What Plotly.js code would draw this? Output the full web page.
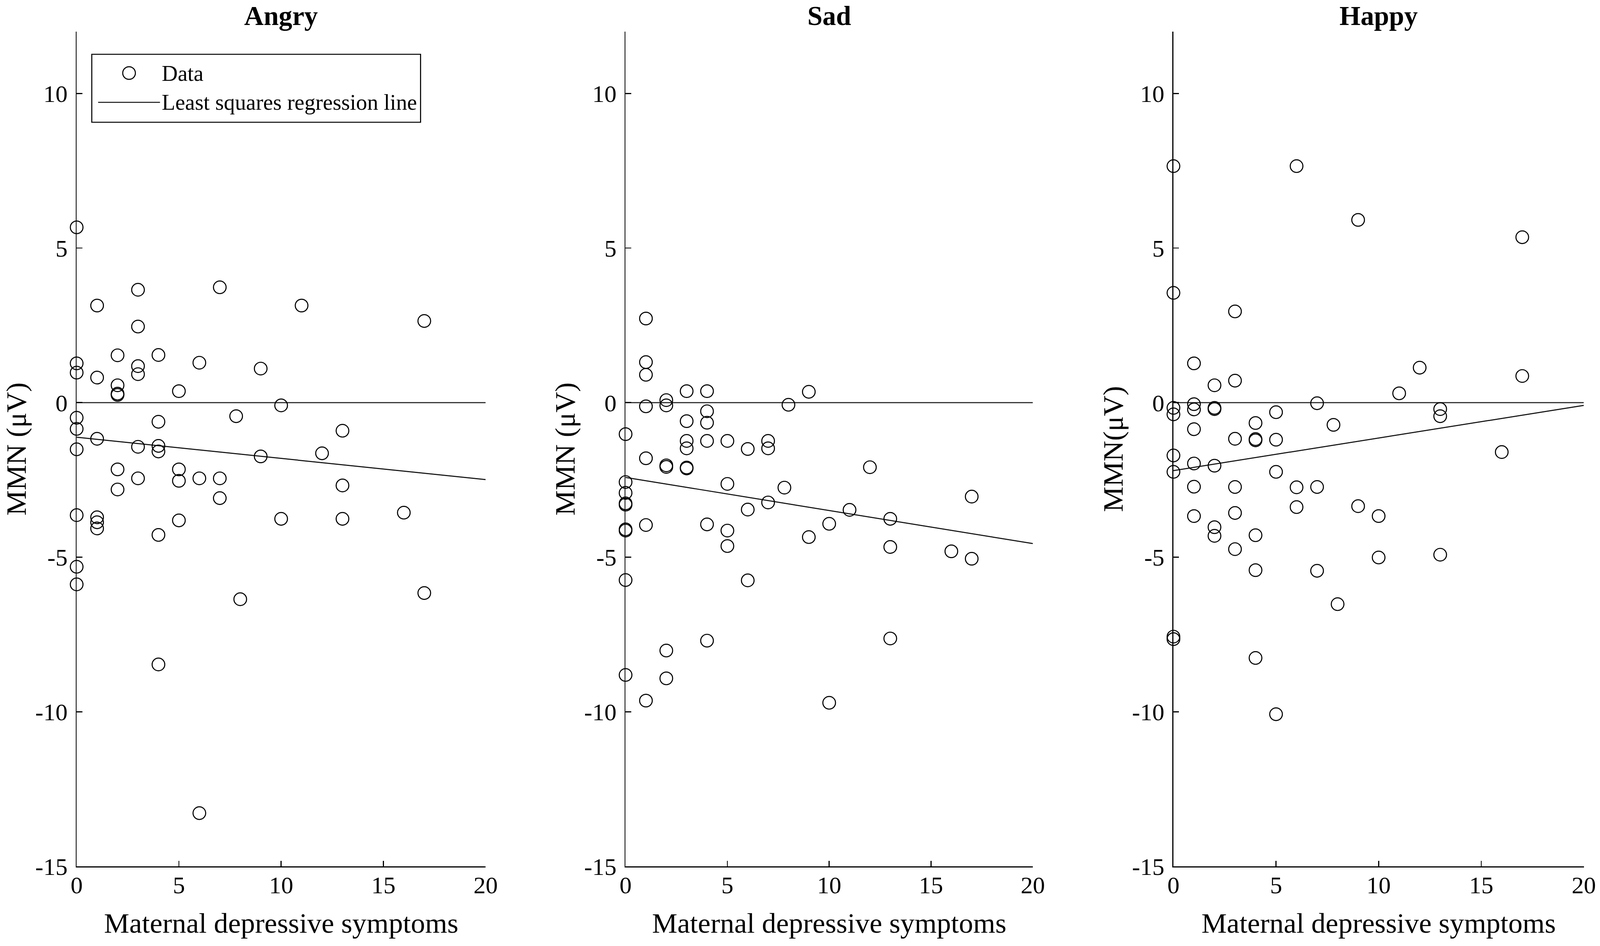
<!DOCTYPE html>
<html>
<head>
<meta charset="utf-8">
<script src="https://cdn.plot.ly/plotly-3.0.1.min.js"></script>
<style>
  html, body { margin: 0; padding: 0; background: #fff; overflow: hidden; }
  #chart { width: 100vw; height: 100vh; }
</style>
</head>
<body>
<div id="chart"></div>
<script>
// panel names and y labels
var panelTitles = ['Angry', 'Sad', 'Happy'];
var yLabels = ['MMN (\u03bcV)', 'MMN (\u03bcV)', 'MMN(\u03bcV)'];
var xLabel = 'Maternal depressive symptoms';

// tick values and their labels (plain hyphen, as in the figure)
var xTicks = [0, 5, 10, 15, 20];
var xTickText = ['0', '5', '10', '15', '20'];
var yTicks = [-15, -10, -5, 0, 5, 10];
var yTickText = ['-15', '-10', '-5', '0', '5', '10'];

// Angry
var angryX = [0, 3, 7, 1, 11, 17, 3, 2, 4, 0, 0, 6, 3, 3, 1, 9, 2, 2, 2, 5,
  10, 0, 7.8, 4, 0, 13, 1, 3, 4, 4, 0, 12, 9, 2, 5, 3, 5, 6, 7, 2,
  13, 7, 0, 1, 1, 1, 5, 10, 13, 16, 4, 0, 0, 8, 17, 4, 6];
var angryY = [5.67, 3.65, 3.73, 3.14, 3.14, 2.64, 2.46, 1.53, 1.54, 1.27, 0.97, 1.29, 1.18, 0.92, 0.81, 1.10, 0.56, 0.29, 0.25, 0.37,
  -0.09, -0.49, -0.44, -0.62, -0.85, -0.91, -1.17, -1.43, -1.40, -1.58, -1.51, -1.64, -1.74, -2.16, -2.16, -2.45, -2.53, -2.45, -2.45, -2.81,
  -2.68, -3.09, -3.64, -3.71, -3.87, -4.07, -3.81, -3.76, -3.76, -3.56, -4.28, -5.31, -5.88, -6.36, -6.16, -8.47, -13.28];

// Sad
var sadX = [1, 1, 1, 3, 4, 9, 1, 2, 2, 8, 4, 3, 4, 0, 3, 3, 4, 5, 6, 7,
  7, 1, 2, 2, 3, 3, 12, 0, 0, 0, 0, 5, 7.8, 17, 7, 6, 11, 13, 10, 1,
  4, 0, 0, 5, 9, 5, 13, 16, 17, 0, 6, 4, 13, 2, 0, 2, 1, 10];
var sadY = [2.72, 1.31, 0.90, 0.37, 0.37, 0.35, -0.12, 0.08, -0.09, -0.07, -0.28, -0.60, -0.65, -1.02, -1.24, -1.48, -1.24, -1.24, -1.50, -1.24,
  -1.48, -1.80, -2.03, -2.08, -2.10, -2.13, -2.09, -2.57, -2.92, -3.26, -3.30, -2.63, -2.75, -3.04, -3.23, -3.46, -3.47, -3.76, -3.92, -3.96,
  -3.94, -4.10, -4.14, -4.14, -4.35, -4.64, -4.67, -4.81, -5.05, -5.74, -5.75, -7.70, -7.63, -8.02, -8.81, -8.92, -9.64, -9.71];

// Happy
var happyX = [0, 6, 9, 17, 0, 3, 1, 12, 17, 3, 2, 11, 0, 0, 1, 1, 2, 2, 7, 5,
  13, 13, 4, 7.8, 1, 3, 4, 4, 5, 16, 0, 1, 2, 0, 5, 1, 3, 6, 7, 6,
  9, 3, 10, 1, 2, 2, 4, 3, 13, 10, 4, 7, 8, 0, 0, 4, 5];
var happyY = [7.65, 7.65, 5.91, 5.35, 3.55, 2.95, 1.27, 1.13, 0.86, 0.71, 0.56, 0.30, -0.17, -0.38, -0.05, -0.22, -0.17, -0.21, -0.02, -0.31,
  -0.21, -0.44, -0.66, -0.72, -0.86, -1.17, -1.18, -1.22, -1.20, -1.60, -1.71, -1.97, -2.04, -2.24, -2.24, -2.72, -2.73, -2.74, -2.73, -3.38,
  -3.35, -3.57, -3.67, -3.67, -4.03, -4.31, -4.29, -4.74, -4.92, -5.01, -5.42, -5.44, -6.52, -7.57, -7.65, -8.26, -10.08];

// least squares lines (end points) and the zero reference line
var fitX = [0, 20];
var angryFitY = [-1.12, -2.49];
var sadFitY = [-2.42, -4.56];
var happyFitY = [-2.20, -0.09];
var zeroY = [0, 0];

// size of the page actually available; the layout was measured on 4550 x 2422
var W = window.innerWidth || 4550;
var H = window.innerHeight || 2422;
var k = Math.min(W / 4550, H / 2422);
function px(v) { return v * k; }
function fx(v) { return v / 4550; }
function fy(v) { return 1 - v / 2422; }

var serif = 'Liberation Serif, Times New Roman, serif';
var xDomains = [[fx(218), fx(1381)], [fx(1779), fx(2937)], [fx(3337), fx(4504)]];
var yDomain = [fy(2218), fy(81)];

var allX = [angryX, sadX, happyX];
var allY = [angryY, sadY, happyY];
var allFit = [angryFitY, sadFitY, happyFitY];

var data = [];
var layout = {
  width: W,
  height: H,
  margin: {l: 0, r: 0, t: 0, b: 0},
  paper_bgcolor: '#fff',
  plot_bgcolor: '#fff',
  showlegend: false,
  annotations: [],
  shapes: []
};

for (var i = 0; i < 3; i++) {
  var sfx = i === 0 ? '' : String(i + 1);
  data.push({
    x: fitX, y: zeroY, xaxis: 'x' + sfx, yaxis: 'y' + sfx,
    type: 'scatter', mode: 'lines', hoverinfo: 'skip',
    line: {color: '#222', width: px(3)}
  });
  data.push({
    x: fitX, y: allFit[i], xaxis: 'x' + sfx, yaxis: 'y' + sfx,
    type: 'scatter', mode: 'lines', name: 'Least squares regression line',
    line: {color: '#111', width: px(3)}
  });
  data.push({
    x: allX[i], y: allY[i], xaxis: 'x' + sfx, yaxis: 'y' + sfx,
    type: 'scatter', mode: 'markers', name: 'Data', cliponaxis: false,
    marker: {symbol: 'circle-open', size: px(36), color: '#000', line: {width: px(3), color: '#000'}}
  });

  layout['xaxis' + sfx] = {
    domain: xDomains[i], anchor: 'y' + sfx, range: [0, 20],
    tickvals: xTicks, ticktext: xTickText, ticks: 'inside', ticklen: px(16), tickwidth: px(3), tickcolor: '#000',
    showline: true, linewidth: px(3), linecolor: '#000',
    showgrid: false, zeroline: false, automargin: false, fixedrange: true,
    tickfont: {family: serif, size: px(69), color: '#000'}, ticklabelstandoff: Math.round(px(-9)),
    title: {text: xLabel, font: {family: serif, size: px(81), color: '#000'}, standoff: px(42)}
  };
  layout['yaxis' + sfx] = {
    domain: yDomain, anchor: 'x' + sfx, range: [-15, 12],
    tickvals: yTicks, ticktext: yTickText, ticks: 'inside', ticklen: px(16), tickwidth: px(3), tickcolor: '#000',
    showline: true, linewidth: px(3), linecolor: '#000',
    showgrid: false, zeroline: false, automargin: false, fixedrange: true,
    tickfont: {family: serif, size: px(69), color: '#000'}, ticklabelstandoff: Math.round(px(9)),
    title: {text: yLabels[i], font: {family: serif, size: px(81), color: '#000'}, standoff: 0}
  };

  layout.annotations.push({
    text: '<b>' + panelTitles[i] + '</b>', xref: 'paper', yref: 'paper',
    x: (xDomains[i][0] + xDomains[i][1]) / 2, y: 1,
    xanchor: 'center', yanchor: 'top', showarrow: false,
    font: {family: serif, size: px(77), color: '#000'}
  });
}

// legend box inside the Angry panel
layout.shapes.push({
  type: 'rect', xref: 'paper', yref: 'paper',
  x0: fx(261), x1: fx(1196), y0: fy(313), y1: fy(139),
  line: {color: '#000', width: px(3)}, fillcolor: '#fff', layer: 'above'
});
layout.shapes.push({
  type: 'circle', xref: 'paper', yref: 'paper', xsizemode: 'pixel', ysizemode: 'pixel',
  xanchor: fx(367), yanchor: fy(187), x0: px(-18), x1: px(18), y0: px(-18), y1: px(18),
  line: {color: '#000', width: px(3)}, layer: 'above'
});
layout.shapes.push({
  type: 'line', xref: 'paper', yref: 'paper',
  x0: fx(279), x1: fx(455), y0: fy(262), y1: fy(262),
  line: {color: '#111', width: px(3)}, layer: 'above'
});
var legendText = ['Data', 'Least squares regression line'];
var legendRows = [187, 262];
for (var j = 0; j < legendText.length; j++) {
  layout.annotations.push({
    text: legendText[j], xref: 'paper', yref: 'paper',
    x: fx(458), y: fy(legendRows[j]),
    xanchor: 'left', yanchor: 'middle', showarrow: false,
    font: {family: serif, size: px(63), color: '#000'}
  });
}

Plotly.newPlot('chart', data, layout, {displayModeBar: false, staticPlot: true});
</script>
</body>
</html>
